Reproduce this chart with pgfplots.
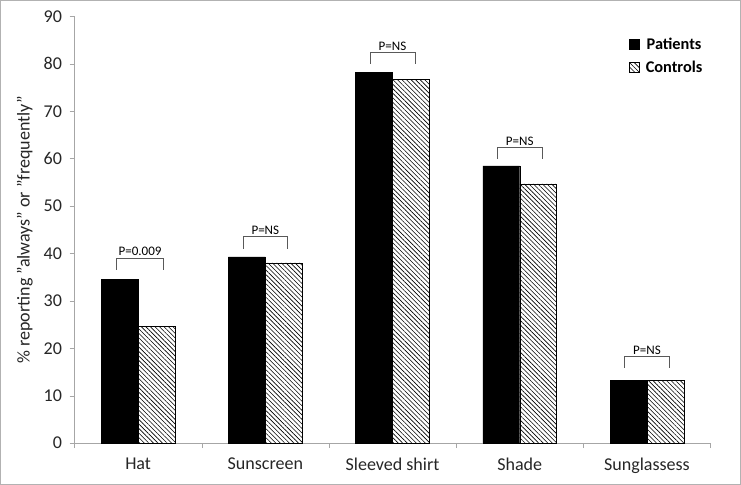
\documentclass[border=0pt]{standalone}
\usepackage{pgfplots}
\pgfplotsset{compat=1.18}
\usepackage{fontspec}
\setmainfont{Carlito}
\usetikzlibrary{patterns.meta}
\begin{document}
\begin{tikzpicture}
\begin{axis}[
 scale only axis, width=635bp, height=426bp,
 xmin=-0.5, xmax=4.5, ymin=0, ymax=90,
 ybar=0pt, bar width=0.29,
 clip=false,
 axis lines=left, axis line style={draw=gray!70, -},
 ytick={0,10,...,90},
 xtick={0,...,4}, xticklabels={Hat,Sunscreen,Sleeved shirt,Shade,Sunglassess},
 major x tick style={draw=none},
 minor xtick={-0.5,0.5,...,4.5},
 minor tick length=5bp, major tick length=5bp,
 tick align=outside,
 every tick/.style={gray!70},
 y tick style={gray!70},
 minor x tick style={gray!70},
 tick label style={font=\fontsize{18bp}{21bp}\selectfont, text=black!85},
 yticklabel style={xshift=-4bp},
 xticklabel style={yshift=-6bp},
 /pgf/number format/assume math mode=true,
 ylabel={\% reporting "always" or "frequently"},
 ylabel style={font=\fontsize{18bp}{21bp}\selectfont, text=black!85, yshift=4bp},
 legend style={at={(0.872,0.955)}, anchor=north west, draw=none, fill=none,
   inner sep=0pt,
   font=\fontsize{16.3bp}{19bp}\selectfont\bfseries, row sep=6bp,
   /tikz/every odd column/.append style={column sep=4bp}},
 legend image code/.code={\draw[#1] (0bp,-5bp) rectangle (10bp,5bp);},
]
\addplot[fill=black, draw=black] coordinates {(0,34.5) (1,39.3) (2,78.2) (3,58.5) (4,13.3)};
\addplot[pattern={Lines[angle=-45, distance=3.2bp, line width=0.6bp]}, draw=black] coordinates {(0,24.7) (1,38.0) (2,76.7) (3,54.7) (4,13.3)};
\legend{Patients, Controls}
\draw[black!65] (axis cs:-0.17,36.6) |- (axis cs:0.2,39.1) -- (axis cs:0.2,36.6);
\node[font=\fontsize{13bp}{15bp}\selectfont, anchor=south, inner sep=1.5bp] at (axis cs:0.015,39.1) {P=0.009};
\draw[black!65] (axis cs:0.825,41.0) |- (axis cs:1.175,43.6) -- (axis cs:1.175,41.0);
\node[font=\fontsize{13bp}{15bp}\selectfont, anchor=south, inner sep=1.5bp] at (axis cs:1,43.6) {P=NS};
\draw[black!65] (axis cs:1.825,80.0) |- (axis cs:2.175,82.4) -- (axis cs:2.175,80.0);
\node[font=\fontsize{13bp}{15bp}\selectfont, anchor=south, inner sep=1.5bp] at (axis cs:2,82.4) {P=NS};
\draw[black!65] (axis cs:2.825,60.0) |- (axis cs:3.175,62.4) -- (axis cs:3.175,60.0);
\node[font=\fontsize{13bp}{15bp}\selectfont, anchor=south, inner sep=1.5bp] at (axis cs:3,62.4) {P=NS};
\draw[black!65] (axis cs:3.825,15.9) |- (axis cs:4.175,18.4) -- (axis cs:4.175,15.9);
\node[font=\fontsize{13bp}{15bp}\selectfont, anchor=south, inner sep=1.5bp] at (axis cs:4,18.4) {P=NS};
\draw[gray!60, line width=0.8bp] ([xshift=-74bp,yshift=-41bp]rel axis cs:0,0) rectangle ([xshift=30bp,yshift=16bp]rel axis cs:1,1);
\end{axis}
\end{tikzpicture}
\end{document}
